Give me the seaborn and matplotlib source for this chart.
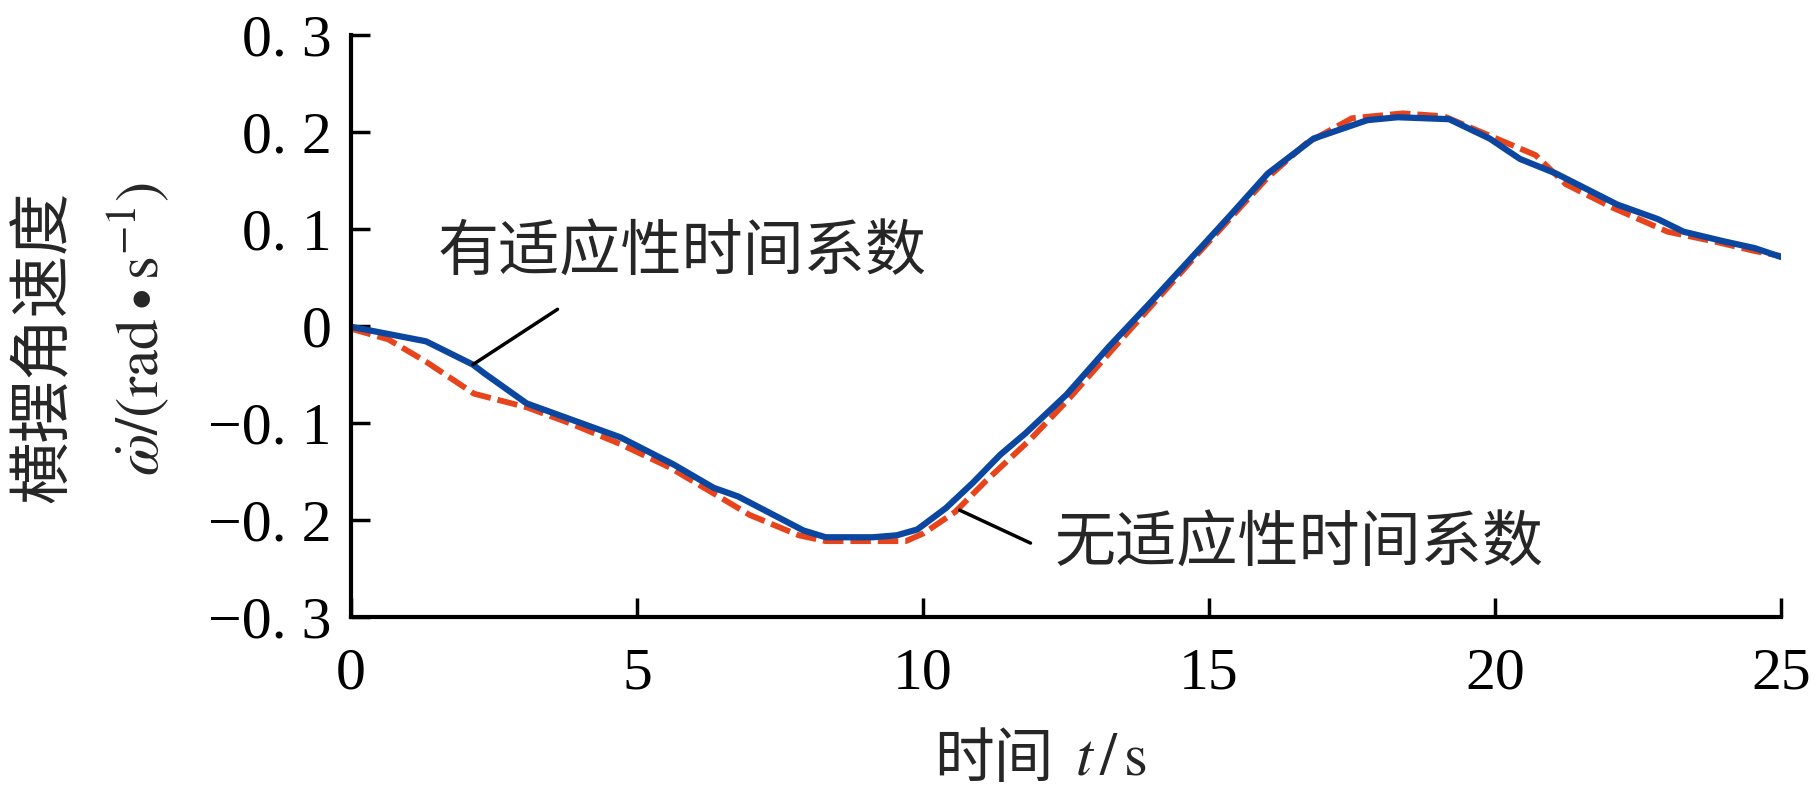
import matplotlib
matplotlib.use('Agg')
import matplotlib.pyplot as plt
import seaborn as sns

# 有适应性时间系数 (实线)
t_with = [0, 1.31, 2.13, 2.33, 3.07, 4.71, 5.64, 6.34, 6.77, 7.91, 8.30, 9.12, 9.54, 9.90,
          10.40, 10.87, 11.35, 11.79, 12.51, 13.26, 13.93, 14.74, 15.36, 16.03, 16.34, 16.83,
          17.77, 18.30, 19.20, 19.91, 20.44, 21.07, 22.14, 22.85, 23.30, 24.01, 24.55, 25.0]
w_with = [-0.001, -0.016, -0.040, -0.049, -0.080, -0.115, -0.143, -0.167, -0.176, -0.211,
          -0.218, -0.218, -0.216, -0.210, -0.188, -0.162, -0.133, -0.111, -0.071, -0.021,
          0.021, 0.073, 0.113, 0.157, 0.171, 0.193, 0.212, 0.215, 0.213, 0.193, 0.172,
          0.157, 0.125, 0.110, 0.097, 0.087, 0.080, 0.071]

# 无适应性时间系数 (虚线)
t_without = [0, 0.65, 1.31, 2.15, 3.07, 3.85, 4.71, 5.57, 6.43, 6.97, 7.83, 8.30, 9.70, 10.01,
             10.56, 11.10, 11.88, 12.51, 13.26, 14.74, 16.03, 16.70, 17.50, 18.39, 19.11,
             20.71, 21.24, 22.05, 23.02, 23.83, 24.55, 25.0]
w_without = [-0.003, -0.014, -0.037, -0.070, -0.084, -0.101, -0.122, -0.146, -0.176, -0.195,
             -0.216, -0.222, -0.222, -0.214, -0.192, -0.160, -0.117, -0.078, -0.028, 0.070,
             0.153, 0.188, 0.214, 0.219, 0.216, 0.176, 0.146, 0.122, 0.097, 0.087, 0.077,
             0.072]

x_ticks = [0, 5, 10, 15, 20, 25]
y_ticks = [-0.3, -0.2, -0.1, 0, 0.1, 0.2, 0.3]
y_tick_labels = ['\u22120. 3', '\u22120. 2', '\u22120. 1', '0', '0. 1', '0. 2', '0. 3']

sns.set_style('ticks')
plt.rcParams['font.family'] = ['Liberation Serif', 'Noto Sans CJK SC']
plt.rcParams['mathtext.fontset'] = 'stix'

fig = plt.figure(figsize=(18.19, 8), dpi=100)
ax = fig.add_axes([0.193, 0.229, 0.786, 0.7275])

sns.lineplot(x=t_without, y=w_without, ax=ax, color='#e8441c', lw=4.2, sort=False,
             linestyle=(0, (3.5, 1.2)))
sns.lineplot(x=t_with, y=w_with, ax=ax, color='#0b47a0', lw=4.5, sort=False)

ax.set_xlim(0, 25)
ax.set_ylim(-0.3, 0.3)
ax.set_xticks(x_ticks)
ax.set_xticklabels([str(v) for v in x_ticks])
ax.set_yticks(y_ticks)
ax.set_yticklabels(y_tick_labels)
ax.tick_params(direction='in', length=14, width=2.5, labelsize=43, colors='black')
ax.tick_params(axis='x', pad=22)
ax.tick_params(axis='y', pad=14)
for s in ['top', 'right']:
    ax.spines[s].set_visible(False)
for s in ['left', 'bottom']:
    ax.spines[s].set_linewidth(3)
    ax.spines[s].set_color('black')

cjk = ['Noto Sans CJK SC', 'DejaVu Sans']

# 标注
ax.plot([3.61, 2.13], [0.017, -0.040], color='black', lw=2.5)
ax.text(5.79, 0.075, '有适应性时间系数', fontsize=44, family=cjk, ha='center', va='center')
ax.plot([10.64, 11.88], [-0.190, -0.224], color='black', lw=2.5)
ax.text(16.57, -0.225, '无适应性时间系数', fontsize=44, family=cjk, ha='center', va='center')

# 坐标轴标题
fig.text(0.024, 0.567, '横摆角速度', rotation=90, fontsize=45, family=cjk,
         ha='center', va='center')
fig.text(0.076, 0.589, r'$\dot{\omega}/(\mathrm{rad}\bullet\mathrm{s}^{-1})$', rotation=90,
         fontsize=44, ha='center', va='center')
fig.text(0.579, 0.05, '时间', fontsize=43, family=cjk, ha='right', va='center')
fig.text(0.591, 0.05, r'$t\,/\,\mathrm{s}$', fontsize=44, ha='left', va='center')

plt.savefig('out.png', dpi=100)
plt.close()
